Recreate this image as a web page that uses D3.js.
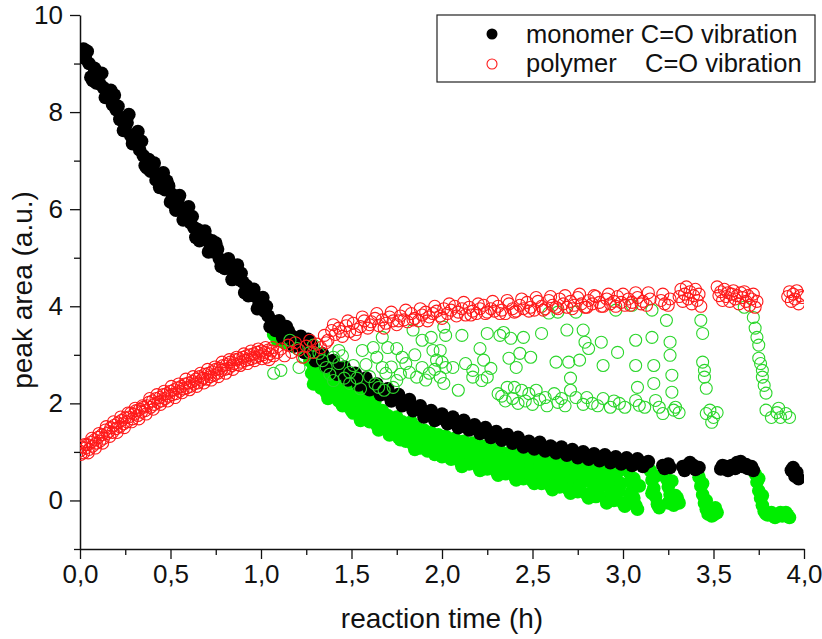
<!DOCTYPE html>
<html>
<head>
<meta charset="utf-8">
<script src="https://cdn.jsdelivr.net/npm/d3@7"></script>
<style>
  body { margin: 0; background: #fff; }
  svg { display: block; font-family: "Liberation Sans", Arial, sans-serif; }
</style>
</head>
<body>
<svg id="chart"></svg>
<script>
// tick labels
const xTicks = [0, 0.5, 1, 1.5, 2, 2.5, 3, 3.5, 4];
const xMinor = [0.25, 0.75, 1.25, 1.75, 2.25, 2.75, 3.25, 3.75];
const yTicks = [0, 2, 4, 6, 8, 10];
const yMinor = [-1, 1, 3, 5, 7, 9];

const seriesNames = ["monomer C=O vibration", "polymer    C=O vibration"];

// monomer C=O (black, filled) [time h, peak area]
const monomer = [
  [0.00,9.18],[0.02,9.30],[0.03,9.10],[0.05,9.00],[0.06,8.72],[0.08,8.90],[0.10,8.75],[0.11,8.58],
  [0.13,8.50],[0.15,8.35],[0.16,8.42],[0.18,8.15],[0.20,8.05],[0.21,8.12],[0.23,7.88],[0.25,7.70],
  [0.26,7.78],[0.28,7.52],[0.30,7.40],[0.31,7.48],[0.33,7.22],[0.35,7.10],[0.36,6.90],[0.38,7.02],
  [0.40,6.85],[0.42,6.60],[0.43,6.72],[0.45,6.62],[0.47,6.40],[0.49,6.48],[0.51,6.30],[0.52,6.10],
  [0.54,6.18],[0.56,6.00],[0.58,5.90],[0.59,5.98],[0.61,5.72],[0.63,5.62],[0.65,5.58],[0.67,5.50],
  [0.68,5.38],[0.70,5.40],[0.72,5.25],[0.74,5.12],[0.76,5.18],[0.77,4.98],[0.79,4.92],[0.81,4.90],
  [0.83,4.80],[0.85,4.68],[0.86,4.75],[0.88,4.55],[0.90,4.50],[0.92,4.42],[0.94,4.32],[0.95,4.25],
  [0.97,4.20],[0.99,4.05],[1.00,4.10],[1.02,3.90],[1.04,3.80],[1.06,3.70],[1.07,3.62],[1.09,3.55],
  [1.11,3.60],[1.13,3.45],[1.15,3.50],[1.17,3.38],[1.19,3.30],[1.21,3.25],[1.23,3.28],[1.25,3.15],
  [1.27,3.10],[1.29,3.05],[1.31,2.98],[1.33,2.95],[1.35,2.88],[1.37,2.85],[1.39,2.78],[1.41,2.72],
  [1.43,2.70],[1.45,2.65],[1.47,2.60],[1.49,2.58],[1.51,2.52],[1.53,2.50],[1.55,2.45],[1.57,2.42],
  [1.59,2.40],[1.61,2.35],[1.63,2.30],[1.65,2.28],[1.67,2.25],[1.69,2.20],[1.71,2.15],[1.73,2.12],
  [1.75,2.10],[1.77,2.05],[1.79,2.00],[1.81,1.98],[1.83,1.95],[1.85,1.90],[1.87,1.88],[1.89,1.85],
  [1.91,1.80],[1.93,1.78],[1.95,1.75],[1.97,1.72],[1.99,1.70],[2.01,1.68],[2.04,1.65],[2.07,1.62],
  [2.10,1.58],[2.13,1.55],[2.16,1.52],[2.19,1.48],[2.22,1.45],[2.25,1.40],[2.28,1.38],[2.31,1.33],
  [2.34,1.30],[2.37,1.28],[2.40,1.25],[2.43,1.22],[2.46,1.18],[2.49,1.15],[2.52,1.14],[2.55,1.12],
  [2.58,1.08],[2.61,1.06],[2.64,1.05],[2.67,1.02],[2.70,1.00],[2.73,0.98],[2.76,0.95],[2.79,0.93],
  [2.82,0.92],[2.85,0.90],[2.88,0.88],[2.91,0.87],[2.94,0.85],[2.97,0.83],[3.00,0.80],[3.03,0.82],
  [3.06,0.78],[3.09,0.80],[3.12,0.76],[3.22,0.72],[3.25,0.75],[3.33,0.70],[3.36,0.74],[3.39,0.72],
  [3.42,0.68],[3.54,0.65],[3.57,0.70],[3.60,0.72],[3.63,0.78],[3.66,0.70],[3.69,0.66],[3.72,0.62],
  [3.93,0.62],[3.95,0.50],[3.96,0.58],
  [0.04,9.25],[0.07,8.65],[0.12,8.80],[0.14,8.30],[0.19,8.35],[0.22,7.85],[0.27,7.95],[0.29,7.35],
  [0.34,7.40],[0.37,6.85],[0.41,6.95],[0.44,6.45],[0.48,6.58],[0.50,6.15],[0.55,6.28],[0.57,5.78],
  [0.62,5.85],[0.64,5.42],[0.69,5.55],[0.71,5.12],[0.75,5.30],[0.78,4.82],[0.82,4.98],[0.84,4.55],
  [0.89,4.68],[0.91,4.28],[0.96,4.35],[0.98,3.95],[1.03,4.00],[1.05,3.58],[1.10,3.70],[1.12,3.35],
  [1.16,3.42],[1.18,3.18],[1.22,3.38],[1.24,3.05],[1.28,3.20],[1.30,2.88],[1.34,3.02],[1.36,2.75],
  [1.40,2.88],[1.42,2.60],[1.46,2.75],[1.48,2.48],[1.52,2.62],[1.54,2.38],[1.58,2.52],[1.60,2.28],
  [1.64,2.40],[1.66,2.18],[1.70,2.30],[1.72,2.05],[1.76,2.18],[1.78,1.95],[1.82,2.08],[1.84,1.85],
  [1.88,1.95],[1.90,1.72],[1.94,1.85],[1.96,1.65],[2.00,1.78],[2.03,1.58],[2.06,1.72],[2.09,1.50],
  [2.12,1.65],[2.15,1.45],[2.18,1.56],[2.21,1.38],[2.24,1.50],[2.27,1.30],[2.30,1.42],[2.33,1.24],
  [2.36,1.36],[2.39,1.18],[2.42,1.30],[2.45,1.10],[2.48,1.22],[2.51,1.06],[2.54,1.20],[2.57,1.02],
  [2.60,1.12],[2.63,0.98],[2.66,1.10],[2.69,0.93],[2.72,1.05],[2.75,0.88],[2.78,1.00],[2.81,0.85],
  [2.84,0.96],[2.87,0.82],[2.90,0.94],[2.93,0.78],[2.96,0.90],[2.99,0.75],[3.02,0.88],[3.05,0.72],
  [3.08,0.86],[3.11,0.70],[3.14,0.80],[3.23,0.66],[3.26,0.68],[3.34,0.62],[3.37,0.78],[3.40,0.64],
  [3.55,0.72],[3.58,0.62],[3.62,0.66],[3.65,0.80],[3.68,0.74],[3.71,0.70],[3.94,0.68],[3.97,0.45],
  [0.09,8.60],[0.17,8.45],[0.24,7.62],[0.32,7.60],[0.39,6.78],[0.46,6.75],[0.53,5.98],[0.60,6.05],
  [0.66,5.35],[0.73,5.35],[0.80,4.78],[0.87,4.85],[0.93,4.22],[1.01,4.18],[1.08,3.50],[1.14,3.58],
  [1.20,3.20],[1.26,3.32]
];

// polymer C=O (red, open)
const polymer = [
  [0.00,1.02],[0.01,1.10],[0.02,0.98],[0.03,1.08],[0.04,1.15],[0.05,1.05],[0.06,1.20],[0.07,1.12],
  [0.08,1.25],[0.09,1.18],[0.10,1.30],[0.11,1.22],[0.12,1.35],[0.13,1.28],[0.14,1.45],[0.15,1.38],
  [0.16,1.42],[0.17,1.50],[0.18,1.40],[0.19,1.55],[0.20,1.48],[0.21,1.60],[0.22,1.52],[0.23,1.65],
  [0.24,1.58],[0.25,1.70],[0.26,1.62],[0.27,1.72],[0.28,1.80],[0.29,1.68],[0.30,1.78],[0.31,1.85],
  [0.32,1.75],[0.33,1.88],[0.34,1.82],[0.35,1.92],[0.36,1.85],[0.37,1.95],[0.38,2.02],[0.39,1.92],
  [0.40,2.05],[0.41,1.98],[0.42,2.10],[0.43,2.02],[0.44,2.12],[0.45,2.05],[0.46,2.18],[0.47,2.10],
  [0.48,2.20],[0.49,2.15],[0.50,2.25],[0.51,2.18],[0.52,2.28],[0.53,2.20],[0.54,2.32],[0.55,2.25],
  [0.56,2.35],[0.57,2.30],[0.58,2.40],[0.59,2.32],[0.60,2.42],[0.61,2.35],[0.62,2.45],[0.63,2.40],
  [0.64,2.50],[0.65,2.42],[0.66,2.55],[0.67,2.48],[0.68,2.52],[0.69,2.60],[0.70,2.50],[0.71,2.62],
  [0.72,2.55],[0.73,2.65],[0.74,2.58],[0.75,2.70],[0.76,2.62],[0.77,2.72],[0.78,2.68],[0.79,2.78],
  [0.80,2.70],[0.81,2.80],[0.82,2.72],[0.83,2.85],[0.84,2.78],[0.85,2.82],[0.86,2.90],[0.87,2.80],
  [0.88,2.92],[0.89,2.85],[0.90,2.95],[0.91,2.88],[0.92,2.98],[0.93,2.90],[0.94,3.00],[0.95,2.92],
  [0.96,3.02],[0.97,2.95],[0.98,3.05],[0.99,2.98],[1.00,3.08],[1.01,3.00],[1.02,3.05],[1.03,2.95],
  [1.04,3.10],[1.05,3.02],[1.06,3.08],[1.07,2.98],[1.09,3.05],[1.11,3.12],[1.13,2.98],[1.15,3.20],
  [1.17,3.05],[1.19,3.25],[1.21,3.10],[1.23,2.95],[1.25,3.18],[1.27,3.30],[1.29,3.05],[1.31,3.22],
  [1.33,3.15],[1.35,3.40],[1.37,3.30],[1.39,3.50],[1.41,3.42],[1.43,3.55],[1.45,3.38],[1.47,3.60],
  [1.49,3.48],[1.51,3.65],[1.53,3.52],[1.55,3.58],[1.57,3.70],[1.59,3.55],[1.61,3.68],[1.63,3.75],
  [1.65,3.60],[1.67,3.72],[1.69,3.65],[1.71,3.78],[1.73,3.70],[1.75,3.62],[1.77,3.80],[1.79,3.72],
  [1.81,3.68],[1.83,3.85],[1.85,3.75],[1.87,3.70],[1.89,3.82],[1.91,3.88],[1.93,3.78],[1.95,3.85],
  [1.97,3.90],[1.99,3.80],[2.01,3.95],[2.03,3.85],[2.05,3.92],[2.07,4.00],[2.09,3.88],[2.11,3.95],
  [2.13,3.82],[2.15,3.98],[2.17,3.90],[2.19,3.85],[2.21,3.95],[2.23,4.02],[2.25,3.88],[2.27,3.95],
  [2.29,3.90],[2.31,4.00],[2.33,3.92],[2.35,3.85],[2.37,4.05],[2.39,3.95],[2.41,3.90],[2.43,4.02],
  [2.45,3.95],[2.47,4.08],[2.49,3.98],[2.51,3.92],[2.53,4.10],[2.55,4.00],[2.57,3.95],[2.59,4.12],
  [2.61,4.02],[2.63,3.98],[2.65,4.15],[2.67,4.05],[2.69,3.98],[2.71,4.10],[2.73,4.02],[2.75,4.18],
  [2.77,4.05],[2.79,3.98],[2.81,4.12],[2.83,4.05],[2.85,4.20],[2.87,4.08],[2.89,4.00],[2.91,4.15],
  [2.93,4.05],[2.95,4.10],[2.97,4.20],[2.99,4.08],[3.01,4.02],[3.03,4.15],[3.05,4.08],[3.08,4.18],
  [3.11,4.10],[3.13,4.02],[3.15,4.15],[3.21,4.12],[3.23,4.05],[3.26,4.15],
  [3.31,4.20],[3.32,4.35],[3.33,4.10],[3.34,4.25],[3.35,4.40],[3.36,4.15],[3.37,4.30],[3.38,4.05],
  [3.39,4.22],[3.40,4.35],[3.41,4.12],[3.42,4.25],[3.43,4.00],
  [3.52,4.40],[3.53,4.22],[3.54,4.30],[3.55,4.12],[3.56,4.35],[3.57,4.20],[3.58,4.28],[3.59,4.10],
  [3.60,4.25],[3.61,4.32],[3.62,4.15],[3.63,4.22],[3.64,4.05],[3.65,4.28],[3.66,4.18],[3.67,4.30],
  [3.68,4.10],[3.69,4.22],[3.70,4.02],[3.71,4.15],[3.72,4.25],[3.73,3.98],[3.74,4.10],
  [3.91,4.20],[3.92,4.30],[3.93,4.10],[3.94,4.25],[3.95,4.15],[3.96,4.32],[3.97,4.05],[3.98,4.22],
  [3.99,4.18],
  [0.005,0.95],[0.025,1.15],[0.045,0.98],[0.065,1.28],[0.085,1.08],[0.105,1.38],[0.125,1.18],[0.145,1.52],
  [0.165,1.32],[0.185,1.62],[0.205,1.40],[0.225,1.72],[0.245,1.50],[0.265,1.80],[0.285,1.62],[0.305,1.90],
  [0.325,1.68],[0.345,1.95],[0.365,1.78],[0.385,2.10],[0.405,1.88],[0.425,2.18],[0.445,1.98],[0.465,2.25],
  [0.485,2.05],[0.505,2.35],[0.525,2.12],[0.545,2.40],[0.565,2.22],[0.585,2.50],[0.605,2.28],[0.625,2.55],
  [0.645,2.35],[0.665,2.62],[0.685,2.42],[0.705,2.70],[0.725,2.48],[0.745,2.75],[0.765,2.55],[0.785,2.85],
  [0.805,2.62],[0.825,2.90],[0.845,2.70],[0.865,2.95],[0.885,2.78],[0.905,3.02],[0.925,2.82],[0.945,3.08],
  [0.965,2.88],[0.985,3.12],[1.005,2.92],[1.025,3.15],[1.045,2.90],[1.065,3.15],
  [1.36,3.25],[1.40,3.62],[1.44,3.48],[1.48,3.70],[1.52,3.42],[1.56,3.78],[1.60,3.62],[1.64,3.85],
  [1.68,3.55],[1.72,3.88],[1.76,3.70],[1.80,3.92],[1.84,3.72],[1.88,3.95],[1.92,3.70],[1.96,4.00],
  [2.00,3.75],[2.04,4.05],[2.08,3.80],[2.12,4.08],[2.16,3.82],[2.20,4.05],[2.24,3.85],[2.28,4.10],
  [2.32,3.85],[2.36,4.12],[2.40,3.88],[2.44,4.15],[2.48,3.90],[2.52,4.18],[2.56,3.92],[2.60,4.20],
  [2.64,3.95],[2.68,4.22],[2.72,3.95],[2.76,4.25],[2.80,3.98],[2.84,4.22],[2.88,4.00],[2.92,4.25],
  [2.96,4.00],[3.00,4.25],[3.04,4.02],[3.07,4.28],[3.10,4.05],[3.14,4.28],[3.22,4.25],[3.25,4.02]
];

// second run, filled green (not in legend)
const greenFilled = [
  [1.07,3.42],[1.09,3.30],[1.11,3.38],[1.13,3.25],
  [1.27,2.88],[1.28,2.62],[1.29,2.78],[1.30,2.48],[1.31,2.92],[1.32,2.55],[1.33,2.32],[1.34,2.72],
  [1.35,2.42],[1.36,2.22],[1.37,2.62],[1.38,2.35],[1.39,2.52],[1.40,2.15],[1.41,2.42],[1.42,2.25],
  [1.43,2.05],[1.44,2.35],[1.45,2.10],[1.46,2.28],[1.47,1.95],[1.48,2.20],[1.49,2.05],[1.50,1.85],
  [1.51,2.15],[1.52,1.92],[1.53,2.05],[1.54,1.78],[1.55,2.02],[1.56,1.85],[1.57,1.70],[1.58,1.95],
  [1.59,1.75],[1.60,1.62],[1.62,1.88],[1.63,1.68],[1.64,1.55],[1.66,1.82],[1.67,1.60],[1.68,1.48],
  [1.70,1.75],[1.71,1.52],[1.72,1.40],[1.74,1.68],[1.75,1.45],[1.76,1.30],[1.78,1.62],[1.79,1.38],
  [1.80,1.22],[1.82,1.55],[1.83,1.32],[1.84,1.15],[1.86,1.50],[1.87,1.25],[1.88,1.08],[1.90,1.45],
  [1.91,1.20],[1.92,1.02],[1.94,1.40],[1.95,1.15],[1.96,0.95],[1.98,1.35],[1.99,1.10],[2.00,0.90],
  [2.02,1.32],[2.03,1.05],[2.05,0.85],[2.07,1.28],[2.08,1.00],[2.10,0.80],[2.12,1.22],[2.13,0.95],
  [2.15,0.75],[2.17,1.18],[2.18,0.90],[2.20,0.70],[2.22,1.12],[2.23,0.85],[2.25,0.65],[2.27,1.08],
  [2.28,0.80],[2.30,0.60],[2.32,1.02],[2.33,0.75],[2.35,0.55],[2.37,0.98],[2.38,0.70],[2.40,0.50],
  [2.42,0.95],[2.43,0.68],[2.45,0.45],[2.47,0.90],[2.48,0.62],[2.50,0.40],[2.52,0.88],[2.53,0.58],
  [2.55,0.35],[2.57,0.85],[2.58,0.55],[2.60,0.30],[2.62,0.80],[2.63,0.50],[2.65,0.28],[2.67,0.78],
  [2.68,0.45],[2.70,0.22],[2.72,0.75],[2.73,0.42],[2.75,0.18],[2.77,0.72],[2.78,0.38],[2.80,0.12],
  [2.82,0.70],[2.83,0.35],[2.85,0.08],[2.87,0.65],[2.88,0.30],[2.90,0.05],[2.92,0.62],[2.93,0.25],
  [2.95,0.00],[2.97,0.58],[2.98,0.20],[3.00,-0.05],
  [3.03,0.60],[3.04,0.40],[3.05,0.20],[3.06,0.05],[3.07,-0.10],[3.08,-0.18],[3.09,0.30],
  [3.15,0.62],[3.16,0.42],[3.17,0.25],[3.18,0.08],[3.19,-0.08],[3.20,-0.15],
  [3.23,0.60],[3.24,0.45],[3.25,0.28],[3.26,0.12],[3.27,0.00],[3.28,-0.10],[3.29,0.10],[3.30,0.05],
  [3.31,-0.05],
  [3.42,0.48],[3.43,0.30],[3.44,0.12],[3.45,-0.05],[3.46,-0.18],[3.47,-0.28],[3.48,-0.22],[3.50,-0.30],
  [3.51,-0.15],[3.52,-0.25],
  [3.73,0.55],[3.74,0.38],[3.75,0.20],[3.76,0.05],[3.77,-0.10],[3.78,-0.22],[3.80,-0.30],[3.82,-0.25],
  [3.84,-0.35],[3.86,-0.28],[3.88,-0.32],[3.90,-0.25],[3.92,-0.35],
  [1.29,2.40],[1.31,2.65],[1.33,2.85],[1.35,2.60],[1.37,2.10],[1.39,2.30],[1.41,2.62],[1.43,2.45],
  [1.45,1.95],[1.47,2.40],[1.49,2.25],[1.51,1.80],[1.53,2.30],[1.55,1.65],[1.57,2.15],[1.59,1.98],
  [1.61,1.72],[1.63,2.05],[1.65,1.45],[1.67,1.85],[1.69,1.62],[1.71,1.35],[1.73,1.58],[1.75,1.72],
  [1.77,1.25],[1.79,1.50],[1.81,1.38],[1.83,1.62],[1.85,1.05],[1.87,1.40],[1.89,1.30],[1.93,1.18],
  [1.97,1.25],[2.01,1.00],[2.04,1.18],[2.06,0.95],[2.09,1.10],[2.11,0.70],[2.14,1.05],[2.16,0.88],
  [2.19,1.02],[2.21,0.62],[2.24,0.95],[2.26,0.78],[2.29,0.90],[2.31,0.52],[2.34,0.85],[2.36,0.65],
  [2.39,0.82],[2.41,0.42],[2.44,0.80],[2.46,0.60],[2.49,0.72],[2.51,0.35],[2.54,0.70],[2.56,0.48],
  [2.59,0.68],[2.61,0.22],[2.64,0.62],[2.66,0.42],[2.69,0.60],[2.71,0.15],[2.74,0.55],[2.76,0.30],
  [2.79,0.50],[2.81,0.05],[2.84,0.48],[2.86,0.22],[2.89,0.45],[2.91,-0.05],[2.94,0.40],[2.96,0.15],
  [2.99,0.35],[3.01,-0.12],[3.04,0.10],[3.06,0.45],[3.16,0.15],[3.18,0.50],[3.25,-0.05],[3.27,0.40],
  [3.44,0.35],[3.46,0.00],[3.49,-0.32],[3.75,0.45],[3.77,0.10],[3.79,-0.28],[3.83,-0.32],[3.87,-0.25],
  [3.91,-0.30]
];

// second run, open green (not in legend)
const greenOpen = [
  [1.07,2.62],[1.11,2.68],[1.16,3.30],[1.20,3.13],[1.21,2.74],[1.24,2.95],[1.27,3.05],[1.29,3.20],
  [1.32,3.03],[1.36,2.74],[1.40,2.95],[1.40,2.47],[1.43,2.82],[1.43,3.09],[1.46,2.52],[1.49,2.64],
  [1.49,2.41],[1.53,2.52],[1.56,3.09],[1.58,2.80],[1.62,3.15],[1.64,2.95],[1.65,2.33],[1.67,2.74],
  [1.67,3.36],[1.68,2.27],[1.69,2.62],[1.70,3.15],[1.73,2.33],[1.75,3.13],[1.75,2.47],[1.78,2.95],
  [1.80,2.82],[1.82,2.64],[1.84,3.51],[1.86,2.54],[1.89,2.74],[1.89,3.30],[1.93,2.62],[1.94,3.36],
  [1.95,3.09],[1.97,2.89],[1.99,2.54],[1.99,3.09],[2.00,2.85],[2.01,3.57],[2.01,2.41],[2.02,3.40],
  [2.02,2.74],[2.06,2.74],[2.09,2.27],[2.11,3.40],[2.13,2.82],[2.17,2.68],[2.17,2.54],[2.21,3.13],
  [2.22,2.47],[2.23,2.89],[2.25,3.44],[2.25,2.54],[2.27,2.72],[2.31,2.20],[2.32,3.40],[2.33,2.15],
  [2.34,3.46],[2.35,2.05],[2.36,2.33],[2.37,2.93],[2.38,3.34],[2.39,2.10],[2.40,2.33],[2.41,2.74],
  [2.42,2.00],[2.43,3.03],[2.44,2.27],[2.45,3.36],[2.46,2.05],[2.48,2.20],[2.49,2.95],[2.50,1.98],
  [2.52,2.27],[2.54,2.08],[2.55,3.44],[2.57,2.12],[2.58,1.95],[2.59,3.86],[2.62,2.20],[2.63,2.85],
  [2.64,3.88],[2.64,2.02],[2.66,2.10],[2.68,1.95],[2.69,3.51],[2.70,2.85],[2.71,2.52],[2.71,2.27],
  [2.74,3.88],[2.74,2.12],[2.76,2.89],[2.78,3.51],[2.78,1.98],[2.79,3.26],[2.80,2.12],[2.81,3.13],
  [2.83,2.00],[2.86,1.95],[2.88,3.26],[2.89,2.78],[2.89,2.10],[2.93,1.92],[2.95,2.05],[2.96,3.92],
  [2.97,3.05],[2.98,2.00],[3.01,1.92],[3.05,4.02],[3.07,3.30],[3.07,2.78],[3.07,2.06],[3.08,2.33],
  [3.09,1.96],[3.12,1.92],[3.16,3.92],[3.16,3.36],[3.17,2.78],[3.17,2.41],[3.18,2.06],[3.20,1.92],
  [3.22,1.79],[3.24,3.71],[3.26,3.26],[3.26,2.99],[3.27,2.58],[3.27,2.23],[3.28,1.86],[3.29,1.92],
  [3.31,1.81],[3.43,3.71],[3.44,3.44],[3.44,2.85],[3.45,2.68],[3.45,2.54],[3.46,2.31],[3.46,1.79],
  [3.48,1.86],[3.49,1.61],[3.50,1.71],[3.52,1.81],[3.67,3.98],[3.72,3.77],[3.73,3.55],[3.74,3.36],
  [3.75,3.20],[3.75,2.93],[3.76,2.82],[3.77,2.68],[3.77,2.54],[3.78,2.37],[3.79,2.21],[3.79,1.86],
  [3.82,1.71],[3.85,1.81],[3.86,1.90],[3.87,1.71],[3.90,1.79],[3.92,1.71],
  [1.34,2.88],[1.38,2.60],[1.45,2.98],[1.51,2.78],[1.55,2.30],[1.60,2.55],[1.63,2.40],[1.72,2.75],
  [1.77,2.60],[1.85,3.00],[1.91,2.48],[1.96,2.70]
];

class PeakAreaPlot {
  constructor(_config) {
    this.config = {
      parentElement: _config.parentElement,
      containerWidth: _config.containerWidth || 822,
      containerHeight: _config.containerHeight || 639,
      margin: { top: 15, bottom: 90, right: 18, left: 80 }
    };
    this.initVis();
  }

  initVis() {
    let vis = this;
    const m = vis.config.margin;
    vis.width = vis.config.containerWidth - m.left - m.right;
    vis.height = vis.config.containerHeight - m.top - m.bottom;

    vis.svg = d3.select(vis.config.parentElement)
        .attr('width', vis.config.containerWidth)
        .attr('height', vis.config.containerHeight);

    vis.xScale = d3.scaleLinear().domain([0, 4]).range([0, vis.width]);
    vis.yScale = d3.scaleLinear().domain([-1, 10]).range([vis.height, 0]);

    vis.chart = vis.svg.append('g')
        .attr('transform', `translate(${m.left},${m.top})`);

    vis.svg.append('defs').append('clipPath').attr('id', 'plot-clip')
      .append('rect')
        .attr('x', 0).attr('y', -10)
        .attr('width', vis.width).attr('height', vis.height + 10);

    const comma = d => d3.format('.1f')(d).replace('.', ',');

    // minor ticks first, then the major axes on top
    vis.chart.append('g')
        .attr('transform', `translate(0,${vis.height})`)
        .call(d3.axisBottom(vis.xScale).tickValues(xMinor).tickSize(6).tickFormat(''))
        .call(g => g.select('.domain').remove());
    vis.chart.append('g')
        .call(d3.axisLeft(vis.yScale).tickValues(yMinor).tickSize(6).tickFormat(''))
        .call(g => g.select('.domain').remove());

    vis.xAxisG = vis.chart.append('g')
        .attr('class', 'axis x-axis')
        .attr('transform', `translate(0,${vis.height})`)
        .call(d3.axisBottom(vis.xScale).tickValues(xTicks).tickSize(10).tickSizeOuter(0)
          .tickPadding(6).tickFormat(comma));
    vis.yAxisG = vis.chart.append('g')
        .attr('class', 'axis y-axis')
        .call(d3.axisLeft(vis.yScale).tickValues(yTicks).tickSize(10).tickSizeOuter(0)
          .tickPadding(7).tickFormat(d3.format('d')));

    vis.svg.selectAll('.tick line').attr('stroke', '#111').attr('stroke-width', 1.3);
    vis.svg.selectAll('.domain').attr('stroke', '#111').attr('stroke-width', 1.5);
    vis.svg.selectAll('.axis text')
        .attr('font-size', 26)
        .attr('fill', '#111')
        .style('font-family', '"Liberation Sans", Arial, sans-serif');

    // axis titles
    vis.svg.append('text')
        .attr('x', m.left + vis.width / 2)
        .attr('y', 628)
        .attr('text-anchor', 'middle')
        .attr('font-size', 28)
        .attr('fill', '#111')
        .text('reaction time (h)');
    vis.svg.append('text')
        .attr('transform', 'rotate(-90)')
        .attr('x', -290)
        .attr('y', 32)
        .attr('text-anchor', 'middle')
        .attr('font-size', 28)
        .attr('fill', '#111')
        .text('peak area (a.u.)');

    vis.renderVis();
  }

  renderVis() {
    let vis = this;
    const plot = vis.chart.append('g').attr('clip-path', 'url(#plot-clip)');

    plot.append('g').selectAll('circle')
      .data(greenFilled).join('circle')
        .attr('cx', d => vis.xScale(d[0]))
        .attr('cy', d => vis.yScale(d[1]))
        .attr('r', 6.8)
        .attr('fill', '#00ee00');

    plot.append('g').selectAll('circle')
      .data(monomer).join('circle')
        .attr('cx', d => vis.xScale(d[0]))
        .attr('cy', d => vis.yScale(d[1]))
        .attr('r', 6.8)
        .attr('fill', '#000');

    plot.append('g').selectAll('circle')
      .data(greenOpen).join('circle')
        .attr('cx', d => vis.xScale(d[0]))
        .attr('cy', d => vis.yScale(d[1]))
        .attr('r', 6)
        .attr('fill', 'none')
        .attr('stroke', '#2bd62b')
        .attr('stroke-width', 1.1);

    plot.append('g').selectAll('circle')
      .data(polymer).join('circle')
        .attr('cx', d => vis.xScale(d[0]))
        .attr('cy', d => vis.yScale(d[1]))
        .attr('r', 6)
        .attr('fill', 'none')
        .attr('stroke', '#ff1a1a')
        .attr('stroke-width', 1.1);

    // legend
    const lg = vis.svg.append('g').attr('transform', 'translate(437,15)');
    lg.append('rect')
        .attr('width', 378).attr('height', 67)
        .attr('fill', '#fff').attr('stroke', '#222').attr('stroke-width', 1.2);
    lg.append('circle').attr('cx', 55).attr('cy', 19).attr('r', 5.5).attr('fill', '#000');
    lg.append('circle').attr('cx', 55).attr('cy', 49).attr('r', 5).attr('fill', 'none')
        .attr('stroke', '#ff1a1a').attr('stroke-width', 1.1);
    lg.selectAll('text.entry')
      .data(seriesNames).join('text')
        .attr('class', 'entry')
        .attr('x', 89)
        .attr('y', (d, i) => 28 + i * 29)
        .attr('font-size', 25.5)
        .attr('fill', '#111')
        .style('white-space', 'pre')
        .text(d => d);
  }
}

new PeakAreaPlot({ parentElement: '#chart' });
</script>
</body>
</html>
